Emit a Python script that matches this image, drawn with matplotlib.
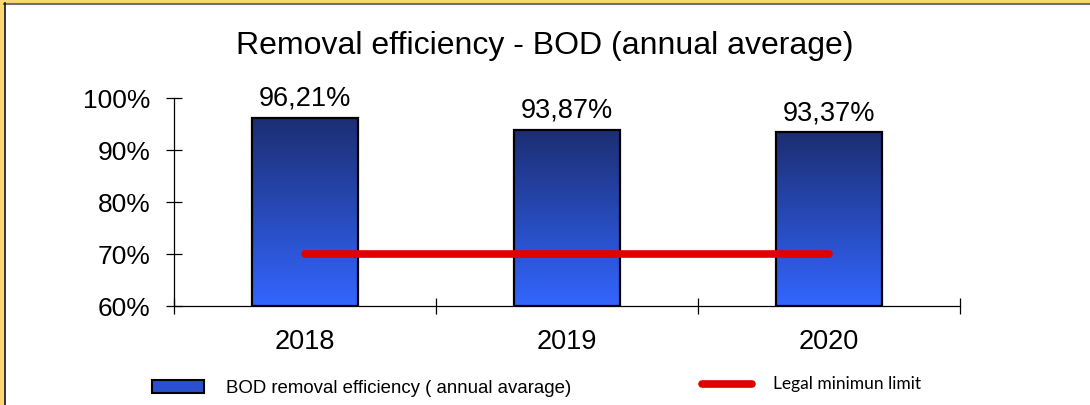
import numpy as np
import matplotlib.pyplot as plt
from matplotlib.colors import LinearSegmentedColormap
from matplotlib.patches import Rectangle
from matplotlib.lines import Line2D

# --- Data ---
years = ["2018", "2019", "2020"]
efficiency = [96.21, 93.87, 93.37]
value_labels = ["96,21%", "93,87%", "93,37%"]
legal_min = [70, 70, 70]
yticks = [60, 70, 80, 90, 100]

plt.rcParams['font.family'] = ['Liberation Sans', 'DejaVu Sans']

fig = plt.figure(figsize=(10.9, 4.06), dpi=100)
ax = fig.add_axes([174 / 1090, 99 / 406, (960 - 174) / 1090, 208 / 406])

x = np.arange(len(years))

# gradient filled bars
cmap = LinearSegmentedColormap.from_list("bod", ["#3366ff", "#1c2e72"])
grad = np.linspace(0, 1, 256).reshape(-1, 1)
bars = ax.bar(x, np.array(efficiency) - 60, bottom=60, width=0.405,
              facecolor='none', edgecolor='black', linewidth=1.6, zorder=3)
for b, v in zip(bars, efficiency):
    x0 = b.get_x()
    im = ax.imshow(grad, cmap=cmap, origin='lower', aspect='auto',
                   extent=[x0, x0 + b.get_width(), 60, v], zorder=2)
    im.set_clip_path(b)
ax.set_xlim(-0.5, len(years) - 0.5)
ax.set_ylim(60, 100)

for xi, v, lab in zip(x, efficiency, value_labels):
    ax.annotate(lab, (xi, v), xytext=(0, 5), textcoords='offset points',
                ha='center', va='bottom', fontsize=19.5)

# legal minimum line
ax.plot(x, legal_min, color='#e00000', linewidth=5.5, solid_capstyle='round', zorder=4)

# axes styling
for s in ['top', 'right']:
    ax.spines[s].set_visible(False)
ax.spines['left'].set_linewidth(0.9)
ax.spines['bottom'].set_linewidth(0.9)
ax.set_yticks(yticks)
ax.set_yticklabels([f"{t}%" for t in yticks], fontsize=19)
ax.tick_params(axis='y', direction='inout', length=11.5, width=0.9, pad=11)
ax.set_xticks([-0.5, 0.5, 1.5, 2.5], minor=False)
ax.set_xticklabels([])
ax.set_xticks(x, minor=True)
ax.set_xticklabels(years, minor=True, fontsize=19.5)
ax.tick_params(axis='x', which='major', direction='inout', length=11, width=0.9)
ax.tick_params(axis='x', which='minor', length=0, pad=16)

fig.text(545 / 1090, 1 - 46 / 406, "Removal efficiency - BOD (annual average)",
         ha='center', va='center', fontsize=23)

# legend
fig.patches.append(Rectangle((152 / 1090, 1 - 394 / 406), 52 / 1090, 13 / 406,
                             transform=fig.transFigure, facecolor='#2a4fd0',
                             edgecolor='black', linewidth=1.5))
fig.text(226 / 1090, 1 - 389 / 406, "BOD removal efficiency ( annual avarage)",
         ha='left', va='center', fontsize=13.4)
fig.lines.append(Line2D([702 / 1090, 752 / 1090], [1 - 385 / 406, 1 - 385 / 406],
                        transform=fig.transFigure, color='#e00000', linewidth=5.5,
                        solid_capstyle='round'))
fig.text(773 / 1090, 1 - 384 / 406, "Legal minimun limit", family=['Lato', 'DejaVu Sans'],
         ha='left', va='center', fontsize=12.5)

# frame
fig.patches.append(Rectangle((0, 0), 3.5 / 1090, 1, transform=fig.transFigure,
                             facecolor='#fcd772', edgecolor='none'))
fig.patches.append(Rectangle((0, 1 - 4 / 406), 1, 4 / 406, transform=fig.transFigure,
                             facecolor='#fcd772', edgecolor='none'))
fig.lines.append(Line2D([4 / 1090, 1], [1 - 5 / 406, 1 - 5 / 406], transform=fig.transFigure,
                        color='#707070', linewidth=1.5))
fig.lines.append(Line2D([4.5 / 1090, 4.5 / 1090], [0, 1 - 4 / 406], transform=fig.transFigure,
                        color='#111111', linewidth=1.2))

fig.savefig("out.png", dpi=100)
